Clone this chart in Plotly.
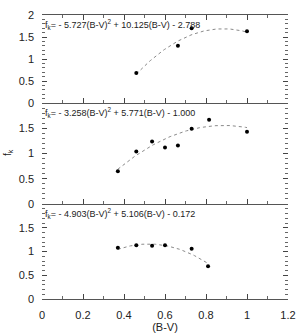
import numpy as np
import plotly.graph_objects as go
from plotly.subplots import make_subplots

# Data
bv_top = [0.46, 0.663, 0.73, 1.0]
fk_top = [0.68, 1.30, 1.70, 1.63]
bv_mid = [0.37, 0.46, 0.537, 0.60, 0.663, 0.73, 0.815, 1.0]
fk_mid = [0.65, 1.04, 1.24, 1.12, 1.16, 1.49, 1.67, 1.43]
bv_bot = [0.37, 0.46, 0.537, 0.60, 0.73, 0.81]
fk_bot = [1.08, 1.13, 1.12, 1.13, 1.06, 0.69]

coef_top = [-5.727, 10.125, -2.788]
coef_mid = [-3.258, 5.771, -1.000]
coef_bot = [-4.903, 5.106, -0.172]

eq_top = "f<sub>k</sub>= - 5.727(B-V)<sup>2</sup> + 10.125(B-V) - 2.788"
eq_mid = "f<sub>k</sub>= - 3.258(B-V)<sup>2</sup> + 5.771(B-V) - 1.000"
eq_bot = "f<sub>k</sub>= - 4.903(B-V)<sup>2</sup> + 5.106(B-V) - 0.172"

x_ticks = [0, 0.2, 0.4, 0.6, 0.8, 1, 1.2]
y_ticks_top = [0, 0.5, 1, 1.5, 2]
y_ticks_low = [0, 0.5, 1, 1.5]

W, H = 299, 336
L, R, T, B = 42, 11, 15, 37
plot_h = H - T - B
bounds = [15, 103, 204, 299]
FONT = "Liberation Sans"

fig = make_subplots(rows=3, cols=1, shared_xaxes=True, vertical_spacing=0)

panels = [(bv_top, fk_top, coef_top, eq_top), (bv_mid, fk_mid, coef_mid, eq_mid), (bv_bot, fk_bot, coef_bot, eq_bot)]
for i, (bx, fy, c, eq) in enumerate(panels):
    row = i + 1
    xs = np.linspace(min(bx), max(bx), 80)
    ys = c[0] * xs ** 2 + c[1] * xs + c[2]
    fig.add_trace(go.Scatter(x=xs, y=ys, mode="lines",
                             line=dict(color="#8a8a8a", width=1, dash="dot"),
                             showlegend=False, hoverinfo="skip"), row=row, col=1)
    fig.add_trace(go.Scatter(x=bx, y=fy, mode="markers",
                             marker=dict(color="black", size=4),
                             showlegend=False), row=row, col=1)

for i in range(3):
    top_px, bot_px = bounds[i], bounds[i + 1]
    d0 = (H - B - bot_px) / plot_h
    d1 = (H - B - top_px) / plot_h
    yname = "yaxis" if i == 0 else f"yaxis{i+1}"
    xname = "xaxis" if i == 0 else f"xaxis{i+1}"
    fig.layout[yname].update(domain=[max(0, d0), min(1, d1)], range=[0, 2],
                             tickvals=y_ticks_top if i == 0 else y_ticks_low,
                             ticks="inside", ticklen=5, ticklabelstandoff=7,
                             tickcolor="#444", showline=False, mirror="ticks",
                             showgrid=False, zeroline=False, automargin=False,
                             minor=dict(dtick=0.1, ticks="inside", ticklen=3, tickcolor="#666"),
                             tickfont=dict(family=FONT, size=11, color="#222"))
    fig.layout[xname].update(range=[0, 1.2], tickvals=x_ticks, ticks="inside", ticklen=5,
                             tickcolor="#444", showline=True, linecolor="#555", linewidth=1,
                             mirror="ticks" if i == 0 else False, showgrid=False, zeroline=False,
                             automargin=False, ticklabelstandoff=6,
                             minor=dict(dtick=0.1, ticks="inside", ticklen=3, tickcolor="#666"),
                             showticklabels=(i == 2),
                             tickfont=dict(family=FONT, size=11, color="#222"))
    fig.add_annotation(text=panels[i][3], xref="paper", yref="paper",
                       x=0.008, y=min(1, d1) - 0.006, xanchor="left", yanchor="top",
                       showarrow=False, borderpad=0,
                       font=dict(family=FONT, size=9, color="#222"))

fig.layout.xaxis3.title = dict(text="(B-V)", standoff=0,
                               font=dict(family=FONT, size=11, color="#222"))
fig.add_annotation(text="f<sub>k</sub>", xref="paper", yref="paper",
                   x=(8 - L) / (W - L - R), y=(H - B - 153) / plot_h, textangle=-90,
                   xanchor="center", yanchor="middle",
                   showarrow=False, font=dict(family=FONT, size=10, color="#222"))

fig.update_layout(width=W, height=H, margin=dict(l=L, r=R, t=T, b=B),
                  plot_bgcolor="white", paper_bgcolor="white")
fig.write_html("out.html", config={"displayModeBar": False},
               post_script="document.body.style.margin='0px';document.body.style.overflow='hidden';")
